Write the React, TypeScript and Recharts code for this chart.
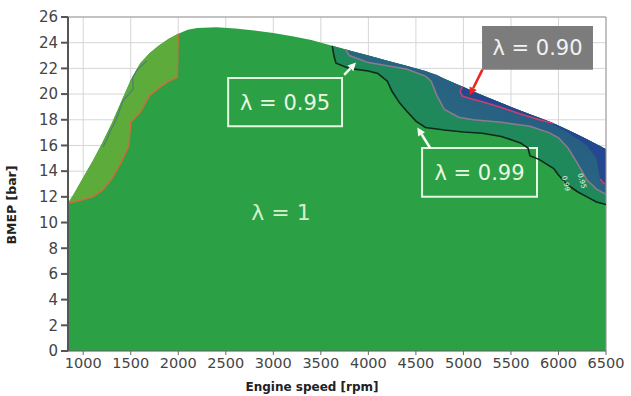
import React from 'react';
import {
  ComposedChart, Area, Line, XAxis, YAxis, CartesianGrid, ReferenceArea, ReferenceLine, Label,
} from 'recharts';

// full-load curve (top edge of the map)
const fullLoad = [
  { rpm: 840, bmep: 11.5 }, { rpm: 900, bmep: 12.2 }, { rpm: 1000, bmep: 13.5 }, { rpm: 1100, bmep: 14.8 },
  { rpm: 1200, bmep: 16.2 }, { rpm: 1300, bmep: 17.7 }, { rpm: 1400, bmep: 19.4 }, { rpm: 1500, bmep: 21.1 },
  { rpm: 1600, bmep: 22.4 }, { rpm: 1700, bmep: 23.2 }, { rpm: 1800, bmep: 23.8 }, { rpm: 1900, bmep: 24.3 },
  { rpm: 2000, bmep: 24.7 }, { rpm: 2100, bmep: 25.0 }, { rpm: 2200, bmep: 25.15 }, { rpm: 2400, bmep: 25.2 },
  { rpm: 2600, bmep: 25.1 }, { rpm: 2800, bmep: 24.95 }, { rpm: 3000, bmep: 24.75 }, { rpm: 3200, bmep: 24.5 },
  { rpm: 3400, bmep: 24.2 }, { rpm: 3600, bmep: 23.8 }, { rpm: 3800, bmep: 23.4 }, { rpm: 4000, bmep: 23.0 },
  { rpm: 4200, bmep: 22.6 }, { rpm: 4400, bmep: 22.2 }, { rpm: 4600, bmep: 21.8 }, { rpm: 4800, bmep: 21.2 },
  { rpm: 5000, bmep: 20.55 }, { rpm: 5200, bmep: 19.9 }, { rpm: 5400, bmep: 19.3 }, { rpm: 5600, bmep: 18.7 },
  { rpm: 5800, bmep: 18.15 }, { rpm: 6000, bmep: 17.55 }, { rpm: 6200, bmep: 16.85 }, { rpm: 6400, bmep: 16.1 },
  { rpm: 6500, bmep: 15.7 },
];

// low-speed zone (orange contour -> full load)
const lowSpeedZone = [
  { rpm: 840, lo: 11.5, hi: 11.5 }, { rpm: 900, lo: 11.6, hi: 12.2 }, { rpm: 1000, lo: 11.8, hi: 13.5 },
  { rpm: 1100, lo: 12.0, hi: 14.8 }, { rpm: 1200, lo: 12.5, hi: 16.2 }, { rpm: 1300, lo: 13.4, hi: 17.7 },
  { rpm: 1400, lo: 14.7, hi: 19.4 }, { rpm: 1480, lo: 16.0, hi: 20.75 }, { rpm: 1500, lo: 17.8, hi: 21.1 },
  { rpm: 1600, lo: 18.6, hi: 22.4 }, { rpm: 1700, lo: 19.9, hi: 23.2 }, { rpm: 1800, lo: 20.5, hi: 23.8 },
  { rpm: 1900, lo: 21.0, hi: 24.3 }, { rpm: 1990, lo: 21.3, hi: 24.65 }, { rpm: 2000, lo: 24.7, hi: 24.7 },
];

// faint blue contour inside the low-speed zone
const lowSpeedContour = [
  { rpm: 1210, bmep: 15.9 }, { rpm: 1250, bmep: 16.5 }, { rpm: 1290, bmep: 17.2 }, { rpm: 1340, bmep: 17.9 },
  { rpm: 1420, bmep: 19.5 }, { rpm: 1480, bmep: 20.0 }, { rpm: 1525, bmep: 20.4 }, { rpm: 1520, bmep: 21.3 },
  { rpm: 1570, bmep: 21.9 }, { rpm: 1670, bmep: 22.6 },
];

// lambda 0.99 contour -> full load
const lambda099 = [
  { rpm: 3620, lo: 23.76, hi: 23.76 }, { rpm: 3640, lo: 22.9, hi: 23.72 }, { rpm: 3660, lo: 22.4, hi: 23.68 },
  { rpm: 3800, lo: 22.0, hi: 23.4 }, { rpm: 4000, lo: 21.8, hi: 23.0 }, { rpm: 4100, lo: 21.6, hi: 22.8 },
  { rpm: 4200, lo: 21.0, hi: 22.6 }, { rpm: 4250, lo: 20.2, hi: 22.5 }, { rpm: 4330, lo: 19.3, hi: 22.35 },
  { rpm: 4400, lo: 18.7, hi: 22.2 }, { rpm: 4500, lo: 17.9, hi: 22.0 }, { rpm: 4600, lo: 17.4, hi: 21.8 },
  { rpm: 4800, lo: 17.2, hi: 21.2 }, { rpm: 5000, lo: 17.05, hi: 20.55 }, { rpm: 5200, lo: 16.95, hi: 19.9 },
  { rpm: 5400, lo: 16.7, hi: 19.3 }, { rpm: 5600, lo: 16.2, hi: 18.7 }, { rpm: 5680, lo: 15.8, hi: 18.48 },
  { rpm: 5700, lo: 15.2, hi: 18.42 }, { rpm: 5800, lo: 14.9, hi: 18.15 }, { rpm: 5950, lo: 14.2, hi: 17.72 },
  { rpm: 6000, lo: 13.7, hi: 17.55 }, { rpm: 6100, lo: 12.9, hi: 17.2 }, { rpm: 6200, lo: 12.4, hi: 16.85 },
  { rpm: 6300, lo: 12.0, hi: 16.48 }, { rpm: 6400, lo: 11.6, hi: 16.1 }, { rpm: 6500, lo: 11.4, hi: 15.7 },
];

// lambda 0.95 contour -> full load
const lambda095 = [
  { rpm: 3760, lo: 23.48, hi: 23.48 }, { rpm: 3800, lo: 23.0, hi: 23.4 }, { rpm: 4000, lo: 22.45, hi: 23.0 },
  { rpm: 4200, lo: 22.2, hi: 22.6 }, { rpm: 4400, lo: 21.95, hi: 22.2 }, { rpm: 4600, lo: 21.4, hi: 21.8 },
  { rpm: 4660, lo: 21.0, hi: 21.65 }, { rpm: 4720, lo: 19.9, hi: 21.5 }, { rpm: 4800, lo: 18.8, hi: 21.2 },
  { rpm: 4950, lo: 18.2, hi: 20.7 }, { rpm: 5100, lo: 18.0, hi: 20.2 }, { rpm: 5400, lo: 17.8, hi: 19.3 },
  { rpm: 5700, lo: 17.5, hi: 18.42 }, { rpm: 5900, lo: 17.0, hi: 17.85 }, { rpm: 6000, lo: 16.6, hi: 17.55 },
  { rpm: 6100, lo: 15.8, hi: 17.2 }, { rpm: 6200, lo: 14.6, hi: 16.85 }, { rpm: 6300, lo: 13.3, hi: 16.48 },
  { rpm: 6400, lo: 12.6, hi: 16.1 }, { rpm: 6500, lo: 12.2, hi: 15.7 },
];

// lambda 0.90 zone -> full load
const lambda090 = [
  { rpm: 4970, lo: 20.65, hi: 20.65 }, { rpm: 4980, lo: 20.1, hi: 20.62 }, { rpm: 5020, lo: 19.75, hi: 20.49 },
  { rpm: 5100, lo: 19.6, hi: 20.2 }, { rpm: 5300, lo: 19.2, hi: 19.6 }, { rpm: 5500, lo: 18.7, hi: 19.0 },
  { rpm: 5700, lo: 18.2, hi: 18.42 }, { rpm: 5900, lo: 17.75, hi: 17.88 }, { rpm: 6100, lo: 17.0, hi: 17.2 },
  { rpm: 6300, lo: 16.0, hi: 16.48 }, { rpm: 6400, lo: 15.0, hi: 16.1 }, { rpm: 6440, lo: 13.3, hi: 15.95 },
  { rpm: 6500, lo: 13.0, hi: 15.7 },
];

const redContour = [
  { rpm: 4990, bmep: 20.6 }, { rpm: 4965, bmep: 20.2 }, { rpm: 4985, bmep: 19.85 }, { rpm: 5060, bmep: 19.68 },
  { rpm: 5200, bmep: 19.4 }, { rpm: 5400, bmep: 18.95 }, { rpm: 5600, bmep: 18.45 }, { rpm: 5800, bmep: 18.0 },
  { rpm: 5950, bmep: 17.7 },
];
const redContourEdge = [{ rpm: 6440, bmep: 13.4 }, { rpm: 6470, bmep: 13.1 }, { rpm: 6500, bmep: 13.0 }];

const xTicks = [1000, 1500, 2000, 2500, 3000, 3500, 4000, 4500, 5000, 5500, 6000, 6500];
const yTicks = [0, 2, 4, 6, 8, 10, 12, 14, 16, 18, 20, 22, 24, 26];

const range = (d: any) => [d.lo, d.hi];

const arrow = (color: string) => (p: any) => {
  const { x1, y1, x2, y2 } = p;
  const a = Math.atan2(y2 - y1, x2 - x1);
  const L = 8, W = 4;
  const bx = x2 - L * Math.cos(a), by = y2 - L * Math.sin(a);
  const pts = `${x2},${y2} ${bx + W * Math.sin(a)},${by - W * Math.cos(a)} ${bx - W * Math.sin(a)},${by + W * Math.cos(a)}`;
  return (
    <g>
      <line x1={x1} y1={y1} x2={bx} y2={by} stroke={color} strokeWidth={2.5} />
      <polygon points={pts} fill={color} />
    </g>
  );
};

const GREEN = '#2ba044';

export default function App() {
  return (
    <div style={{ position: 'absolute', left: 0, top: 0, width: 631, height: 396, background: '#fff', fontFamily: '"DejaVu Sans", sans-serif' }}>
      <ComposedChart width={631} height={396} margin={{ top: 17, right: 25, bottom: 0, left: 0 }}>
        <defs>
          <linearGradient id="midFill" x1="0" y1="1" x2="1" y2="0">
            <stop offset="0%" stopColor="#22806a" />
            <stop offset="45%" stopColor="#29677f" />
            <stop offset="100%" stopColor="#244e8e" />
          </linearGradient>
        </defs>
        <CartesianGrid stroke="#d6d6d6" />
        <XAxis type="number" dataKey="rpm" domain={[840, 6500]} ticks={xTicks} allowDataOverflow
          height={45} tickSize={4} tickMargin={3} stroke="#666" tick={{ fill: '#444', fontSize: 14.5 }}>
          <Label content={() => (
            <text x={312} y={391} textAnchor="middle" fontSize={12} fontWeight="bold" fill="#222">Engine speed [rpm]</text>
          )} />
        </XAxis>
        <YAxis type="number" domain={[0, 26]} ticks={yTicks} width={68} tickSize={7} tickMargin={3}
          stroke="#555" strokeWidth={2} tick={{ fill: '#444', fontSize: 15 }}>
          <Label content={() => (
            <text x={16} y={205} transform="rotate(-90 16 205)" textAnchor="middle" fontSize={12.5} fontWeight="bold" fill="#222">BMEP [bar]</text>
          )} />
        </YAxis>

        <ReferenceLine y={26} stroke="#999" />
        <ReferenceLine x={6500} stroke="#999" />

        <Area data={fullLoad} dataKey="bmep" type="linear" fill={GREEN} fillOpacity={1} stroke="none" isAnimationActive={false} />
        <Area data={lowSpeedZone} dataKey={range} type="linear" fill="#5dab3a" fillOpacity={1} stroke="none" isAnimationActive={false} />
        <Line data={lowSpeedZone} dataKey="lo" type="linear" stroke="#cf6e3c" strokeWidth={1.5} dot={false} isAnimationActive={false} />
        <Line data={lowSpeedContour} dataKey="bmep" type="linear" stroke="#3f6f86" strokeWidth={1.2} strokeOpacity={0.7} dot={false} isAnimationActive={false} />

        <Area data={lambda099} dataKey={range} type="linear" fill="#1f895b" fillOpacity={1} stroke="none" isAnimationActive={false} />
        <Area data={lambda095} dataKey={range} type="linear" fill="url(#midFill)" fillOpacity={1} stroke="none" isAnimationActive={false} />
        <Area data={lambda090} dataKey={range} type="linear" fill="#24478f" fillOpacity={1} stroke="none" isAnimationActive={false} />
        <Line data={lambda099} dataKey="lo" type="linear" stroke="#0f2a1a" strokeWidth={1.6} dot={false} isAnimationActive={false} />
        <Line data={lambda095} dataKey="lo" type="linear" stroke="#8e7a8e" strokeWidth={1.5} dot={false} isAnimationActive={false} />
        <Line data={redContour} dataKey="bmep" type="linear" stroke="#cf3f6a" strokeWidth={1.5} dot={false} isAnimationActive={false} />
        <Line data={redContourEdge} dataKey="bmep" type="linear" stroke="#cf3f6a" strokeWidth={1.5} dot={false} isAnimationActive={false} />

        <ReferenceArea x1={6030} x2={6130} y1={12.2} y2={13.9} fillOpacity={0} stroke="none"
          label={{ value: '0.99', position: 'center', fill: '#e8f5e8', fontSize: 7, angle: 75 }} />
        <ReferenceArea x1={6200} x2={6300} y1={12.4} y2={14.1} fillOpacity={0} stroke="none"
          label={{ value: '0.95', position: 'center', fill: '#e8f5e8', fontSize: 7, angle: 75 }} />

        <ReferenceArea x1={2700} x2={3460} y1={10.0} y2={11.6} fillOpacity={0} stroke="none"
          label={{ value: 'λ = 1', position: 'center', fill: '#d4efcc', fontSize: 22 }} />
        <ReferenceArea x1={2525} x2={3723} y1={17.5} y2={21.25} fill={GREEN} fillOpacity={1} stroke="#e4f6e0" strokeWidth={2}
          label={{ value: 'λ = 0.95', position: 'center', fill: '#e8f7e4', fontSize: 21 }} />
        <ReferenceArea x1={4565} x2={5774} y1={12.0} y2={15.8} fill={GREEN} fillOpacity={1} stroke="#e4f6e0" strokeWidth={2}
          label={{ value: 'λ = 0.99', position: 'center', fill: '#e8f7e4', fontSize: 21 }} />
        <ReferenceArea x1={5196} x2={6363} y1={21.9} y2={25.3} fill="#7c7c7c" fillOpacity={1} stroke="none"
          label={{ value: 'λ = 0.90', position: 'center', fill: '#f2f2f2', fontSize: 21 }} />

        <ReferenceLine segment={[{ x: 3745, y: 21.5 }, { x: 3870, y: 22.45 }]} shape={arrow('#f4fbf2')} />
        <ReferenceLine segment={[{ x: 4650, y: 15.8 }, { x: 4515, y: 17.4 }]} shape={arrow('#f4fbf2')} />
        <ReferenceLine segment={[{ x: 5200, y: 21.9 }, { x: 5065, y: 19.9 }]} shape={arrow('#e8261e')} />
      </ComposedChart>
    </div>
  );
}
